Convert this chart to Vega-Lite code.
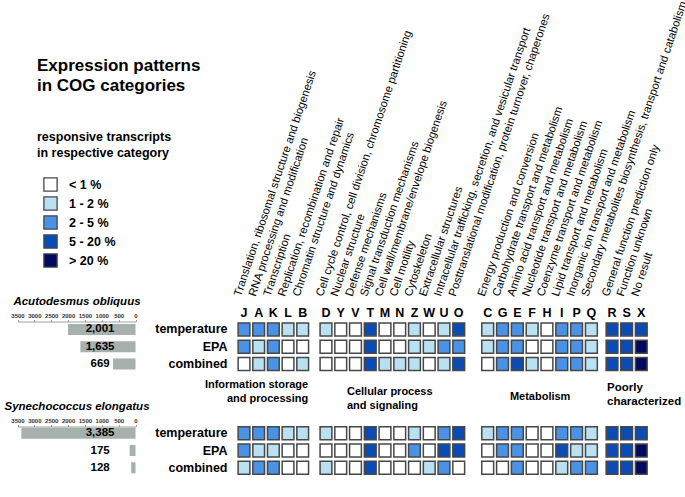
{
  "$schema": "https://vega.github.io/schema/vega-lite/v6.json",
  "width": 685,
  "height": 497,
  "autosize": "none",
  "padding": 0,
  "background": "white",
  "config": {"font": "Liberation Sans", "view": {"stroke": null}, "axis": {"grid": false}},
  "title": {"text": ["Expression patterns", "in COG categories"], "anchor": "start", "frame": "group", "orient": "top", "offset": 0, "dx": 37, "dy": 95, "baseline": "top", "fontSize": 17, "fontWeight": "bold", "lineHeight": 20, "color": "black", "font": "Liberation Sans"},
  "datasets": {
    "cells": [
      {"r":"a_temperature","c":"J","v":2},{"r":"a_temperature","c":"A","v":2},{"r":"a_temperature","c":"K","v":2},{"r":"a_temperature","c":"L","v":1},{"r":"a_temperature","c":"B","v":1},
      {"r":"a_temperature","c":"D","v":1},{"r":"a_temperature","c":"Y","v":0},{"r":"a_temperature","c":"V","v":0},{"r":"a_temperature","c":"T","v":3},{"r":"a_temperature","c":"M","v":0},{"r":"a_temperature","c":"N","v":0},{"r":"a_temperature","c":"Z","v":1},{"r":"a_temperature","c":"W","v":0},{"r":"a_temperature","c":"U","v":1},{"r":"a_temperature","c":"O","v":3},
      {"r":"a_temperature","c":"C","v":1},{"r":"a_temperature","c":"G","v":2},{"r":"a_temperature","c":"E","v":2},{"r":"a_temperature","c":"F","v":1},{"r":"a_temperature","c":"H","v":0},{"r":"a_temperature","c":"I","v":2},{"r":"a_temperature","c":"P","v":2},{"r":"a_temperature","c":"Q","v":1},
      {"r":"a_temperature","c":"R","v":3},{"r":"a_temperature","c":"S","v":3},{"r":"a_temperature","c":"X","v":3},
      {"r":"a_EPA","c":"J","v":2},{"r":"a_EPA","c":"A","v":1},{"r":"a_EPA","c":"K","v":2},{"r":"a_EPA","c":"L","v":0},{"r":"a_EPA","c":"B","v":0},
      {"r":"a_EPA","c":"D","v":0},{"r":"a_EPA","c":"Y","v":0},{"r":"a_EPA","c":"V","v":0},{"r":"a_EPA","c":"T","v":3},{"r":"a_EPA","c":"M","v":0},{"r":"a_EPA","c":"N","v":0},{"r":"a_EPA","c":"Z","v":1},{"r":"a_EPA","c":"W","v":1},{"r":"a_EPA","c":"U","v":2},{"r":"a_EPA","c":"O","v":2},
      {"r":"a_EPA","c":"C","v":1},{"r":"a_EPA","c":"G","v":2},{"r":"a_EPA","c":"E","v":2},{"r":"a_EPA","c":"F","v":0},{"r":"a_EPA","c":"H","v":0},{"r":"a_EPA","c":"I","v":2},{"r":"a_EPA","c":"P","v":2},{"r":"a_EPA","c":"Q","v":1},
      {"r":"a_EPA","c":"R","v":3},{"r":"a_EPA","c":"S","v":3},{"r":"a_EPA","c":"X","v":4},
      {"r":"a_combined","c":"J","v":0},{"r":"a_combined","c":"A","v":1},{"r":"a_combined","c":"K","v":2},{"r":"a_combined","c":"L","v":0},{"r":"a_combined","c":"B","v":1},
      {"r":"a_combined","c":"D","v":0},{"r":"a_combined","c":"Y","v":0},{"r":"a_combined","c":"V","v":0},{"r":"a_combined","c":"T","v":3},{"r":"a_combined","c":"M","v":1},{"r":"a_combined","c":"N","v":1},{"r":"a_combined","c":"Z","v":1},{"r":"a_combined","c":"W","v":0},{"r":"a_combined","c":"U","v":1},{"r":"a_combined","c":"O","v":3},
      {"r":"a_combined","c":"C","v":0},{"r":"a_combined","c":"G","v":2},{"r":"a_combined","c":"E","v":3},{"r":"a_combined","c":"F","v":1},{"r":"a_combined","c":"H","v":0},{"r":"a_combined","c":"I","v":2},{"r":"a_combined","c":"P","v":2},{"r":"a_combined","c":"Q","v":1},
      {"r":"a_combined","c":"R","v":3},{"r":"a_combined","c":"S","v":3},{"r":"a_combined","c":"X","v":4},
      {"r":"s_temperature","c":"J","v":2},{"r":"s_temperature","c":"A","v":2},{"r":"s_temperature","c":"K","v":2},{"r":"s_temperature","c":"L","v":1},{"r":"s_temperature","c":"B","v":1},
      {"r":"s_temperature","c":"D","v":1},{"r":"s_temperature","c":"Y","v":0},{"r":"s_temperature","c":"V","v":0},{"r":"s_temperature","c":"T","v":3},{"r":"s_temperature","c":"M","v":0},{"r":"s_temperature","c":"N","v":0},{"r":"s_temperature","c":"Z","v":1},{"r":"s_temperature","c":"W","v":0},{"r":"s_temperature","c":"U","v":2},{"r":"s_temperature","c":"O","v":3},
      {"r":"s_temperature","c":"C","v":1},{"r":"s_temperature","c":"G","v":2},{"r":"s_temperature","c":"E","v":2},{"r":"s_temperature","c":"F","v":0},{"r":"s_temperature","c":"H","v":0},{"r":"s_temperature","c":"I","v":2},{"r":"s_temperature","c":"P","v":2},{"r":"s_temperature","c":"Q","v":1},
      {"r":"s_temperature","c":"R","v":3},{"r":"s_temperature","c":"S","v":3},{"r":"s_temperature","c":"X","v":3},
      {"r":"s_EPA","c":"J","v":2},{"r":"s_EPA","c":"A","v":1},{"r":"s_EPA","c":"K","v":1},{"r":"s_EPA","c":"L","v":0},{"r":"s_EPA","c":"B","v":0},
      {"r":"s_EPA","c":"D","v":0},{"r":"s_EPA","c":"Y","v":0},{"r":"s_EPA","c":"V","v":0},{"r":"s_EPA","c":"T","v":3},{"r":"s_EPA","c":"M","v":0},{"r":"s_EPA","c":"N","v":0},{"r":"s_EPA","c":"Z","v":2},{"r":"s_EPA","c":"W","v":0},{"r":"s_EPA","c":"U","v":3},{"r":"s_EPA","c":"O","v":3},
      {"r":"s_EPA","c":"C","v":0},{"r":"s_EPA","c":"G","v":2},{"r":"s_EPA","c":"E","v":2},{"r":"s_EPA","c":"F","v":0},{"r":"s_EPA","c":"H","v":0},{"r":"s_EPA","c":"I","v":3},{"r":"s_EPA","c":"P","v":1},{"r":"s_EPA","c":"Q","v":1},
      {"r":"s_EPA","c":"R","v":3},{"r":"s_EPA","c":"S","v":3},{"r":"s_EPA","c":"X","v":4},
      {"r":"s_combined","c":"J","v":1},{"r":"s_combined","c":"A","v":2},{"r":"s_combined","c":"K","v":2},{"r":"s_combined","c":"L","v":0},{"r":"s_combined","c":"B","v":0},
      {"r":"s_combined","c":"D","v":1},{"r":"s_combined","c":"Y","v":0},{"r":"s_combined","c":"V","v":0},{"r":"s_combined","c":"T","v":3},{"r":"s_combined","c":"M","v":0},{"r":"s_combined","c":"N","v":0},{"r":"s_combined","c":"Z","v":0},{"r":"s_combined","c":"W","v":1},{"r":"s_combined","c":"U","v":2},{"r":"s_combined","c":"O","v":0},
      {"r":"s_combined","c":"C","v":0},{"r":"s_combined","c":"G","v":0},{"r":"s_combined","c":"E","v":2},{"r":"s_combined","c":"F","v":0},{"r":"s_combined","c":"H","v":0},{"r":"s_combined","c":"I","v":1},{"r":"s_combined","c":"P","v":2},{"r":"s_combined","c":"Q","v":2},
      {"r":"s_combined","c":"R","v":3},{"r":"s_combined","c":"S","v":3},{"r":"s_combined","c":"X","v":4}
    ],
    "cats": [
      {"c":"J","name":"Translation, ribosomal structure and biogenesis"},
      {"c":"A","name":"RNA processing and modification"},
      {"c":"K","name":"Transcription"},
      {"c":"L","name":"Replication, recombination and repair"},
      {"c":"B","name":"Chromatin structure and dynamics"},
      {"c":"D","name":"Cell cycle control, cell division, chromosome partitioning"},
      {"c":"Y","name":"Nuclear structure"},
      {"c":"V","name":"Defense mechanisms"},
      {"c":"T","name":"Signal transduction mechanisms"},
      {"c":"M","name":"Cell wall/membrane/envelope biogenesis"},
      {"c":"N","name":"Cell motility"},
      {"c":"Z","name":"Cytoskeleton"},
      {"c":"W","name":"Extracellular structures"},
      {"c":"U","name":"Intracellular trafficking, secretion, and vesicular transport"},
      {"c":"O","name":"Posttranslational modification, protein turnover, chaperones"},
      {"c":"C","name":"Energy production and conversion"},
      {"c":"G","name":"Carbohydrate transport and metabolism"},
      {"c":"E","name":"Amino acid transport and metabolism"},
      {"c":"F","name":"Nucleotide transport and metabolism"},
      {"c":"H","name":"Coenzyme transport and metabolism"},
      {"c":"I","name":"Lipid transport and metabolism"},
      {"c":"P","name":"Inorganic ion transport and metabolism"},
      {"c":"Q","name":"Secondary metabolites biosynthesis, transport and catabolism"},
      {"c":"R","name":"General function prediction only"},
      {"c":"S","name":"Function unknown"},
      {"c":"X","name":"No result"}
    ],
    "totals": [
      {"r":"a_temperature","n":2001},{"r":"a_EPA","n":1635},{"r":"a_combined","n":669},
      {"r":"s_temperature","n":3385},{"r":"s_EPA","n":175},{"r":"s_combined","n":128}
    ]
  },
  "encoding": {
    "y": {"field": "r", "type": "nominal",
      "scale": {"domain": ["a_temperature","a_EPA","a_combined","g1","g2","g3","s_temperature","s_EPA","s_combined"], "range": [320.75, 476.45], "paddingInner": 0.25, "paddingOuter": 0.125},
      "axis": {"orient": "left", "offset": -233, "domain": false, "ticks": false, "tickSize": 0, "title": null, "labelExpr": "indexof(datum.value,'_')>0 ? split(datum.value,'_')[1] : ''", "labelFontWeight": "bold", "labelFontSize": 12.5, "labelColor": "black", "labelPadding": 6}}
  },
  "layer": [
    {
      "encoding": {"x": {"field": "c", "type": "nominal", "scale": {"domain": ["J","A","K","L","B"], "range": [236.66, 310.04], "paddingInner": 0.2, "paddingOuter": 0.1},
        "axis": {"orient": "top", "offset": -321, "domain": false, "ticks": false, "tickSize": 0, "labelAngle": 0, "labelFontWeight": "bold", "labelFontSize": 12.5, "labelColor": "black", "labelPadding": 2, "title": null}}},
      "layer": [
        {"data": {"name": "cells"}, "transform": [{"filter": {"field": "c", "oneOf": ["J","A","K","L","B"]}}],
         "mark": {"type": "rect", "stroke": "#474747", "strokeWidth": 1.5},
         "encoding": {"color": {"field": "v", "type": "ordinal", "scale": {"domain": [0,1,2,3,4], "range": ["#ffffff","#b9e1f2","#4a92e6","#0a4cb3","#03095e"]},
           "legend": {"orient": "none", "legendX": 37, "legendY": 131, "direction": "vertical", "title": ["responsive transcripts", "in respective category"], "titleFontSize": 12.5, "titleFontWeight": "bold", "titleColor": "black", "titleLineHeight": 15.5, "titlePadding": 18, "titleAnchor": "start", "symbolType": "square", "symbolSize": 175, "symbolStrokeColor": "#333333", "symbolStrokeWidth": 1.3, "symbolOffset": 6, "labelFontSize": 12.5, "labelFontWeight": "bold", "labelColor": "black", "labelOffset": 11, "rowPadding": 0, "padding": 0, "labelExpr": "['< 1 %','1 - 2 %','2 - 5 %','5 - 20 %','> 20 %'][datum.value]"}}}},
        {"data": {"name": "cats"}, "transform": [{"filter": {"field": "c", "oneOf": ["J","A","K","L","B"]}}],
         "mark": {"type": "text", "angle": -71.5, "align": "left", "baseline": "middle", "fontSize": 11.3, "color": "black", "dx": 29.8, "dy": -16.3},
         "encoding": {"y": {"datum": "a_temperature"}, "text": {"field": "name"}}},
        {"data": {"values": [{"t": "Information storage\nand processing"}]},
         "mark": {"type": "text", "align": "right", "baseline": "middle", "fontSize": 11, "fontWeight": "bold", "lineHeight": 14, "lineBreak": "\n", "color": "black", "dx": 5.5, "dy": 3.7},
         "encoding": {"x": {"datum": "B"}, "y": {"datum": "g1"}, "text": {"field": "t"}}}
      ]
    },
    {
      "encoding": {"x": {"field": "c", "type": "nominal", "scale": {"domain": ["D","Y","V","T","M","N","Z","W","U","O"], "range": [318.6, 466.1], "paddingInner": 0.2, "paddingOuter": 0.1},
        "axis": {"orient": "top", "offset": -321, "domain": false, "ticks": false, "tickSize": 0, "labelAngle": 0, "labelFontWeight": "bold", "labelFontSize": 12.5, "labelColor": "black", "labelPadding": 2, "title": null}}},
      "layer": [
        {"data": {"name": "cells"}, "transform": [{"filter": {"field": "c", "oneOf": ["D","Y","V","T","M","N","Z","W","U","O"]}}],
         "mark": {"type": "rect", "stroke": "#474747", "strokeWidth": 1.5},
         "encoding": {"color": {"field": "v", "type": "ordinal", "scale": {"domain": [0,1,2,3,4], "range": ["#ffffff","#b9e1f2","#4a92e6","#0a4cb3","#03095e"]}}}},
        {"data": {"name": "cats"}, "transform": [{"filter": {"field": "c", "oneOf": ["D","Y","V","T","M","N","Z","W","U","O"]}}],
         "mark": {"type": "text", "angle": -71.5, "align": "left", "baseline": "middle", "fontSize": 11.3, "color": "black", "dx": 29.8, "dy": -16.3},
         "encoding": {"y": {"datum": "a_temperature"}, "text": {"field": "name"}}},
        {"data": {"values": [{"t": "Cellular process\nand signaling"}]},
         "mark": {"type": "text", "align": "left", "baseline": "middle", "fontSize": 11, "fontWeight": "bold", "lineHeight": 14, "lineBreak": "\n", "color": "black", "dx": -8.5, "dy": 10.7},
         "encoding": {"x": {"datum": "V"}, "y": {"datum": "g1"}, "text": {"field": "t"}}}
      ]
    },
    {
      "encoding": {"x": {"field": "c", "type": "nominal", "scale": {"domain": ["C","G","E","F","H","I","P","Q"], "range": [480.3, 598.8], "paddingInner": 0.2, "paddingOuter": 0.1},
        "axis": {"orient": "top", "offset": -321, "domain": false, "ticks": false, "tickSize": 0, "labelAngle": 0, "labelFontWeight": "bold", "labelFontSize": 12.5, "labelColor": "black", "labelPadding": 2, "title": null}}},
      "layer": [
        {"data": {"name": "cells"}, "transform": [{"filter": {"field": "c", "oneOf": ["C","G","E","F","H","I","P","Q"]}}],
         "mark": {"type": "rect", "stroke": "#474747", "strokeWidth": 1.5},
         "encoding": {"color": {"field": "v", "type": "ordinal", "scale": {"domain": [0,1,2,3,4], "range": ["#ffffff","#b9e1f2","#4a92e6","#0a4cb3","#03095e"]}}}},
        {"data": {"name": "cats"}, "transform": [{"filter": {"field": "c", "oneOf": ["C","G","E","F","H","I","P","Q"]}}],
         "mark": {"type": "text", "angle": -71.5, "align": "left", "baseline": "middle", "fontSize": 11.3, "color": "black", "dx": 29.8, "dy": -16.3},
         "encoding": {"y": {"datum": "a_temperature"}, "text": {"field": "name"}}},
        {"data": {"values": [{"t": "Metabolism"}]},
         "mark": {"type": "text", "align": "center", "baseline": "middle", "fontSize": 11, "fontWeight": "bold", "color": "black", "dx": 8, "dy": 15.7},
         "encoding": {"x": {"datum": "F"}, "y": {"datum": "g1"}, "text": {"field": "t"}}}
      ]
    },
    {
      "encoding": {"x": {"field": "c", "type": "nominal", "scale": {"domain": ["R","S","X"], "range": [604.7, 648.6], "paddingInner": 0.2, "paddingOuter": 0.1},
        "axis": {"orient": "top", "offset": -321, "domain": false, "ticks": false, "tickSize": 0, "labelAngle": 0, "labelFontWeight": "bold", "labelFontSize": 12.5, "labelColor": "black", "labelPadding": 2, "title": null}}},
      "layer": [
        {"data": {"name": "cells"}, "transform": [{"filter": {"field": "c", "oneOf": ["R","S","X"]}}],
         "mark": {"type": "rect", "stroke": "#474747", "strokeWidth": 1.5},
         "encoding": {"color": {"field": "v", "type": "ordinal", "scale": {"domain": [0,1,2,3,4], "range": ["#ffffff","#b9e1f2","#4a92e6","#0a4cb3","#03095e"]}}}},
        {"data": {"name": "cats"}, "transform": [{"filter": {"field": "c", "oneOf": ["R","S","X"]}}],
         "mark": {"type": "text", "angle": -71.5, "align": "left", "baseline": "middle", "fontSize": 11.3, "color": "black", "dx": 29.8, "dy": -16.3},
         "encoding": {"y": {"datum": "a_temperature"}, "text": {"field": "name"}}},
        {"data": {"values": [{"t": "Poorly\ncharacterized"}]},
         "mark": {"type": "text", "align": "left", "baseline": "middle", "fontSize": 11.5, "fontWeight": "bold", "lineHeight": 14, "lineBreak": "\n", "color": "black", "dx": -5, "dy": 6.7},
         "encoding": {"x": {"datum": "R"}, "y": {"datum": "g1"}, "text": {"field": "t"}}}
      ]
    },
    {
      "encoding": {"x": {"field": "n", "type": "quantitative", "scale": {"domain": [0, 3500], "range": [135.5, 17.5]},
        "axis": {"orient": "top", "offset": -321.5, "values": [0,500,1000,1500,2000,2500,3000,3500], "format": "d", "labelFontSize": 6, "labelFontWeight": "bold", "labelColor": "#333333", "labelPadding": 1, "labelFlush": false, "labelOverlap": false, "labelBound": false, "tickSize": 2, "tickColor": "#888888", "domainColor": "#888888", "domainWidth": 0.8, "tickWidth": 0.8, "grid": false, "title": "Acutodesmus obliquus", "titleFontSize": 11.5, "titleFontWeight": "bold", "titleFontStyle": "italic", "titleColor": "black", "titlePadding": 6}}},
      "layer": [
        {"data": {"name": "totals"}, "transform": [{"filter": "indexof(datum.r,'a_')==0"}],
         "mark": {"type": "bar", "color": "#a6b0ad", "height": {"band": 0.85}}},
        {"data": {"name": "totals"}, "transform": [{"filter": "indexof(datum.r,'a_')==0"}],
         "mark": {"type": "text", "fontWeight": "bold", "fontSize": 11.5, "color": "black", "align": "center", "baseline": "middle"},
         "encoding": {"x": {"datum": 1050}, "text": {"field": "n", "type": "quantitative", "format": ","}}}
      ]
    },
    {
      "encoding": {"x": {"field": "n", "type": "quantitative", "scale": {"domain": [0, 3500], "range": [135.5, 17.5]},
        "axis": {"orient": "top", "offset": -426.5, "values": [0,500,1000,1500,2000,2500,3000,3500], "format": "d", "labelFontSize": 6, "labelFontWeight": "bold", "labelColor": "#333333", "labelPadding": 1, "labelFlush": false, "labelOverlap": false, "labelBound": false, "tickSize": 2, "tickColor": "#888888", "domainColor": "#888888", "domainWidth": 0.8, "tickWidth": 0.8, "grid": false, "title": "Synechococcus elongatus", "titleFontSize": 11.5, "titleFontWeight": "bold", "titleFontStyle": "italic", "titleColor": "black", "titlePadding": 6}}},
      "layer": [
        {"data": {"name": "totals"}, "transform": [{"filter": "indexof(datum.r,'s_')==0"}],
         "mark": {"type": "bar", "color": "#a6b0ad", "height": {"band": 0.85}}},
        {"data": {"name": "totals"}, "transform": [{"filter": "indexof(datum.r,'s_')==0"}],
         "mark": {"type": "text", "fontWeight": "bold", "fontSize": 11.5, "color": "black", "align": "center", "baseline": "middle"},
         "encoding": {"x": {"datum": 1050}, "text": {"field": "n", "type": "quantitative", "format": ","}}},
        {"data": {"values": [{"t": "total altered transcripts"}]},
         "mark": {"type": "text", "fontWeight": "bold", "fontSize": 13.5, "color": "black", "align": "center", "baseline": "middle", "dy": 21},
         "encoding": {"x": {"datum": 1884}, "y": {"datum": "s_combined"}, "text": {"field": "t"}}}
      ]
    }
  ],
  "resolve": {"scale": {"x": "independent"}}
}
